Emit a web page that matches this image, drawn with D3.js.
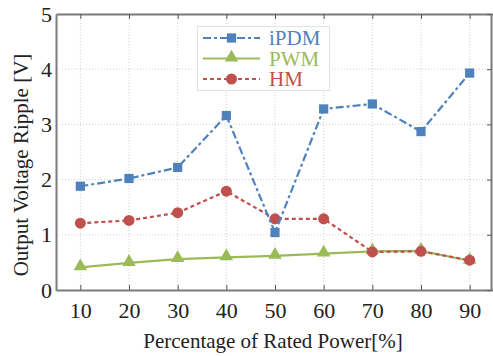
<!DOCTYPE html>
<html><head><meta charset="utf-8">
<script src="https://cdn.jsdelivr.net/npm/d3@7"></script>
<style>body{margin:0;background:#fff}svg{display:block}</style>
</head><body>
<svg id="c" width="493" height="356"></svg>
<script>
const categories = [10,20,30,40,50,60,70,80,90];
const iPDM = [1.88,2.02,2.22,3.16,1.04,3.28,3.37,2.87,3.93];
const PWM  = [0.41,0.49,0.56,0.59,0.62,0.66,0.70,0.71,0.53];
const HM   = [1.21,1.26,1.40,1.79,1.29,1.29,0.69,0.70,0.54];
const yTicks = [0,1,2,3,4,5];
const seriesNames = ["iPDM","PWM","HM"];

const svg = d3.select("#c");
const L=56, R=494, T=14, B=290;
const x = d3.scaleLinear().domain([5,95]).range([L,R]);
const y = d3.scaleLinear().domain([0,5]).range([B,T]);
const font = "'Liberation Serif','Times New Roman',serif";
const axisCol = "#7a7a7a";

// grid
const g = svg.append("g");
g.selectAll(".gx").data(categories).enter().append("line")
  .attr("x1",d=>x(d)).attr("x2",d=>x(d)).attr("y1",T).attr("y2",B)
  .attr("stroke","#d0d0d0").attr("stroke-width",1).attr("stroke-dasharray","1,2");
g.selectAll(".gy").data(yTicks.slice(1,-1)).enter().append("line")
  .attr("y1",d=>y(d)).attr("y2",d=>y(d)).attr("x1",L).attr("x2",R)
  .attr("stroke","#d0d0d0").attr("stroke-width",1).attr("stroke-dasharray","1,2");

// axes
const ax = (sel)=>{sel.select(".domain").attr("stroke",axisCol).attr("stroke-width",2);
  sel.selectAll(".tick line").attr("stroke","#555").attr("stroke-width",1);
  sel.selectAll("text").attr("font-family",font).attr("font-size",22).attr("fill","#222");};
svg.append("g").attr("transform",`translate(0,${B})`)
  .call(d3.axisBottom(x).tickValues(categories).tickSize(-5).tickSizeOuter(0).tickPadding(12))
  .call(ax);
svg.append("g").attr("transform",`translate(0,${T})`)
  .call(d3.axisTop(x).tickValues(categories).tickSize(-5).tickSizeOuter(0).tickFormat(""))
  .call(ax);
svg.append("g").attr("transform",`translate(${L},0)`)
  .call(d3.axisLeft(y).tickValues(yTicks).tickSize(0).tickSizeOuter(0).tickPadding(4).tickFormat(d3.format("d")))
  .call(ax);
svg.append("g").attr("transform",`translate(${R-3},0)`)
  .call(d3.axisRight(y).tickValues(yTicks).tickSize(-4).tickSizeOuter(0).tickFormat(""))
  .call(ax);

const styles = {
  iPDM:{color:"#4f81bd", dash:"8,3,3,3", marker:"square"},
  PWM:{color:"#9bbb59", dash:null, marker:"triangle"},
  HM:{color:"#c0504d", dash:"4,3", marker:"circle"}
};
const dataMap = {iPDM, PWM, HM};
const line = d3.line().x((d,i)=>x(categories[i])).y(d=>y(d));
const sym = {square:d3.symbol().type(d3.symbolSquare).size(85),
  triangle:d3.symbol().type(d3.symbolTriangle).size(80),
  circle:d3.symbol().type(d3.symbolCircle).size(95)};

["PWM","HM","iPDM"].forEach(name=>{
  const s = styles[name], vals = dataMap[name];
  svg.append("path").datum(vals).attr("d",line).attr("fill","none")
    .attr("stroke",s.color).attr("stroke-width",2.2)
    .attr("stroke-dasharray",s.dash);
  svg.selectAll(".m"+name).data(vals).enter().append("path")
    .attr("d",sym[s.marker]).attr("fill",s.color)
    .attr("transform",(d,i)=>`translate(${x(categories[i])},${y(d)+(s.marker==="triangle"?-1:0)})`);
});

// legend
const lg = svg.append("g");
lg.append("rect").attr("x",197.5).attr("y",26.5).attr("width",132).attr("height",64)
  .attr("fill","#fff").attr("stroke","#e2e2e2");
seriesNames.forEach((name,i)=>{
  const s = styles[name]; const yy = 38 + i*20.5;
  lg.append("line").attr("x1",203).attr("x2",260).attr("y1",yy).attr("y2",yy)
    .attr("stroke",s.color).attr("stroke-width",2.2).attr("stroke-dasharray",s.dash);
  lg.append("path").attr("d",sym[s.marker]).attr("fill",s.color)
    .attr("transform",`translate(231.5,${yy+(s.marker==="triangle"?-1:0)})`);
  lg.append("text").attr("x",269).attr("y",yy).attr("dy","0.35em")
    .attr("font-family",font).attr("font-size",21).attr("fill",s.color).text(name);
});

// axis titles
svg.append("text").attr("x",(L+490)/2).attr("y",348).attr("text-anchor","middle")
  .attr("font-family",font).attr("font-size",21).attr("fill","#222")
  .text("Percentage of Rated Power[%]");
svg.append("text").attr("transform",`translate(28,${(T+B)/2+13}) rotate(-90)`)
  .attr("text-anchor","middle").attr("font-family",font).attr("font-size",21).attr("fill","#222")
  .text("Output Voltage Ripple [V]");
</script>
</body></html>
